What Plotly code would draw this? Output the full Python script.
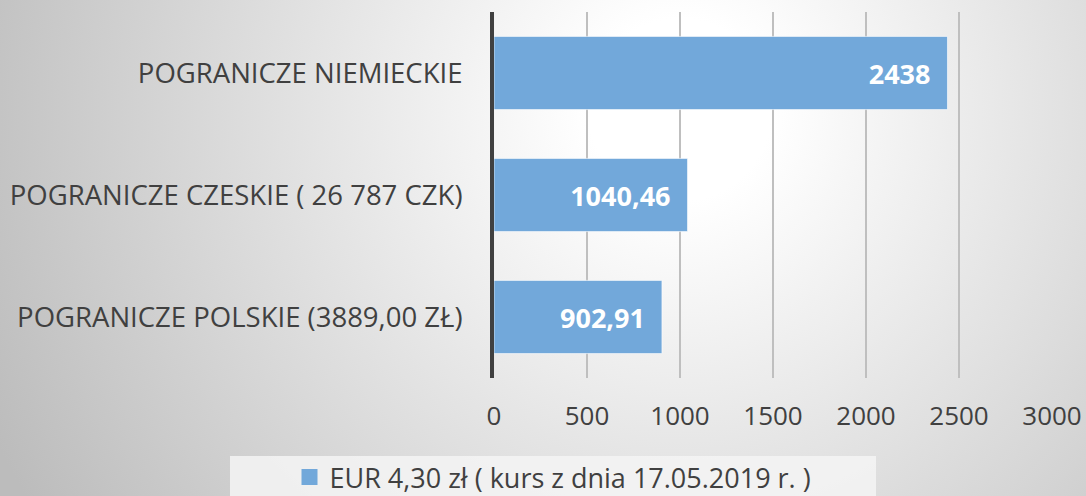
import base64
import plotly.graph_objects as go

categories = [
    "POGRANICZE POLSKIE (3889,00 ZŁ)",
    "POGRANICZE CZESKIE ( 26 787 CZK)",
    "POGRANICZE NIEMIECKIE",
]
values = [902.91, 1040.46, 2438]
value_labels = ["902,91", "1040,46", "2438"]
series_name = "EUR 4,30 zł ( kurs z dnia 17.05.2019 r. )"
tick_vals = [0, 500, 1000, 1500, 2000, 2500, 3000]

W, H = 1086, 496
L, R, T, B = 494, 34, 12, 118
pw, ph = W - L - R, H - T - B

# radial grey background as an svg picture
svg = f"""<svg xmlns='http://www.w3.org/2000/svg' width='{W}' height='{H}'>
<defs><radialGradient id='g' gradientUnits='userSpaceOnUse' cx='680' cy='110' r='760'>
<stop offset='0.12' stop-color='#ffffff'/><stop offset='1' stop-color='#bcbcbc'/>
</radialGradient></defs>
<rect width='{W}' height='{H}' fill='url(#g)'/></svg>"""
bg = "data:image/svg+xml;base64," + base64.b64encode(svg.encode()).decode()

font = "Open Sans"


def px_x(p):
    return (p - L) / pw


def px_y(p):
    return (T + ph - p) / ph


fig = go.Figure()
fig.add_trace(go.Bar(
    y=categories, x=values, orientation="h", name=series_name,
    width=0.6, showlegend=False,
    marker=dict(color="#72a8da", line=dict(color="rgba(255,255,255,0.6)", width=1)),
    text=value_labels, texttemplate="%{text}\u00a0\u00a0", textposition="inside",
    insidetextanchor="end",
    textfont=dict(family=font, size=27, color="white", weight="bold"),
))
# legend entry only
fig.add_trace(go.Scatter(
    x=[None], y=[None], mode="markers", name=series_name,
    marker=dict(symbol="square", size=16, color="#72a8da"),
))

fig.update_layout(
    width=W, height=H,
    margin=dict(l=L, r=R, t=T, b=B, pad=0, autoexpand=False),
    paper_bgcolor="white", plot_bgcolor="rgba(0,0,0,0)",
    font=dict(family=font, size=27, color="#404040"),
    showlegend=True,
    legend=dict(orientation="h", xref="container", yref="container",
                x=553 / W, xanchor="center", y=43 / H, yanchor="top",
                bgcolor="rgba(0,0,0,0)", font=dict(size=27, color="#404040"),
                itemsizing="trace"),
    images=[dict(source=bg, xref="paper", yref="paper",
                 x=-L / pw, y=1 + T / ph, sizex=W / pw, sizey=H / ph,
                 xanchor="left", yanchor="top", sizing="stretch", layer="below")],
    shapes=[dict(type="rect", xref="paper", yref="paper",
                 x0=px_x(230), x1=px_x(876), y0=px_y(H), y1=px_y(456),
                 fillcolor="rgba(245,245,245,0.85)", line=dict(width=0), layer="below")],
)

fig.update_xaxes(range=[0, 3000], tickvals=tick_vals, showgrid=True,
                 gridcolor="#bfbfbf", gridwidth=1.5, zeroline=False,
                 showline=False, ticks="", ticklabelstandoff=20,
                 tickfont=dict(size=26, color="#404040"))
fig.update_yaxes(showgrid=False, showline=True, linecolor="#404040", linewidth=4,
                 ticks="", ticklabelstandoff=22,
                 tickfont=dict(size=27.5, color="#404040"))

fig.write_html("out.html", config={"displayModeBar": False},
               post_script="document.body.style.margin='0';")
